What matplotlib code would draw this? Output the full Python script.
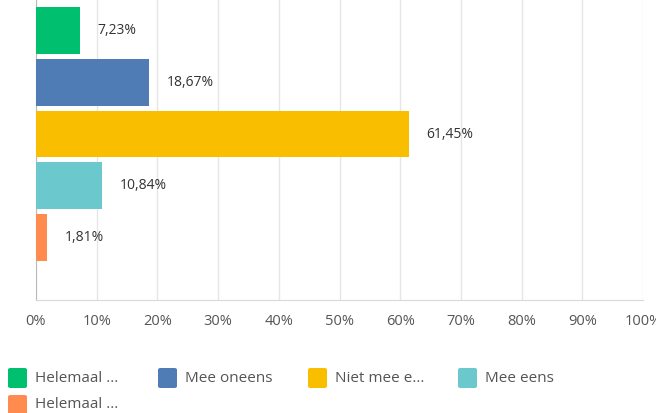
import matplotlib
matplotlib.use("Agg")
import matplotlib.pyplot as plt
from matplotlib.patches import FancyBboxPatch

categories = ["Helemaal ...", "Mee oneens", "Niet mee e...", "Mee eens", "Helemaal ..."]
values = [7.23, 18.67, 61.45, 10.84, 1.81]
colors = ["#00BF6F", "#507CB6", "#F9BE00", "#6BC8CD", "#FF8B4F"]
ticks = [0, 10, 20, 30, 40, 50, 60, 70, 80, 90, 100]
tick_labels = ["{}%".format(t) for t in ticks]

plt.rcParams['font.family'] = ['Open Sans', 'DejaVu Sans']
text_color = "#333333"

fig = plt.figure(figsize=(6.56, 4.13), dpi=100)
W, H = 656, 413
# plot area in pixels: left 36, right 643, top -33 (cropped), bottom 300
ax = fig.add_axes([36 / W, (H - 300) / H, (643 - 36) / W, (300 + 33) / H])

y = list(range(len(values)))
ax.barh(y, values, height=0.9, color=colors, zorder=3)
for yi, v in zip(y, values):
    ax.text(v + 2.9, yi, "{:.2f}%".format(v).replace(".", ","), va="center", ha="left",
            fontsize=10, color=text_color)

ax.set_xlim(0, 100)
ax.set_ylim(5.21, -1.23)
ax.set_xticks(ticks)
ax.set_xticklabels(tick_labels, fontsize=10.5, color="#555555")
ax.set_yticks([])
ax.tick_params(axis="x", length=0, pad=10)
ax.grid(axis="x", color="#e6e6e6", linewidth=1, zorder=0)
for s in ["top", "right"]:
    ax.spines[s].set_visible(False)
ax.spines["left"].set_color("#bbbbbb")
ax.spines["bottom"].set_color("#d9d9d9")

# legend, laid out like the original
pos = [(8, 378), (158, 378), (308, 378), (458, 378), (8, 405)]
for (px, py), lab, c in zip(pos, categories, colors):
    box = FancyBboxPatch((px / W, (H - py - 10) / H), 19 / W, 20 / H,
                         boxstyle="round,pad=0,rounding_size=0.004",
                         transform=fig.transFigure, facecolor=c, edgecolor="none")
    fig.patches.append(box)
    fig.text((px + 27) / W, (H - py) / H, lab, fontsize=11, color="#555555",
             va="center", ha="left")

fig.savefig("out.png", dpi=100)
